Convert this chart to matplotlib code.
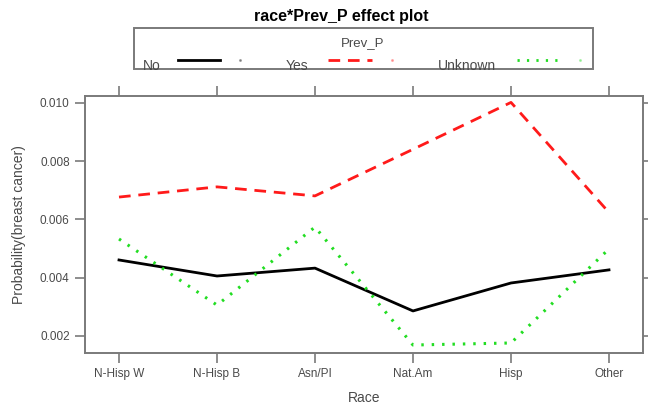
import matplotlib
matplotlib.use("Agg")
import matplotlib.pyplot as plt
from matplotlib.lines import Line2D
from matplotlib.patches import Rectangle
import numpy as np

plt.rcParams.update({"font.family": ["Liberation Sans", "DejaVu Sans"]})

RACES = ["N-Hisp W", "N-Hisp B", "Asn/PI", "Nat.Am", "Hisp", "Other"]
P_NO = [0.00461, 0.00406, 0.00433, 0.00286, 0.00382, 0.00427]
P_YES = [0.00677, 0.00712, 0.00681, 0.00841, 0.01002, 0.00624]
P_UNKNOWN = [0.00533, 0.00306, 0.00574, 0.00169, 0.00176, 0.00499]
Y_TICKS = [0.002, 0.004, 0.006, 0.008, 0.010]

GRAY = "#7a7a7a"
TXT = "#4a4a4a"
RED = "#ff1a1a"
GREEN = "#22dd22"

W, H = 648, 407


def fx(px):
    return px / W


def fy(py):
    return 1 - py / H


fig = plt.figure(figsize=(W / 100, H / 100), dpi=100)
ax = fig.add_axes([fx(85), fy(353), fx(643) - fx(85), fy(96) - fy(353)])

x = np.arange(len(RACES))
ax.plot(x, P_NO, color="black", lw=2.0, solid_joinstyle="round")
ax.plot(x, P_YES, color=RED, lw=2.0, dashes=(4.2, 2.8))
ax.plot(x, P_UNKNOWN, color=GREEN, lw=2.2, dashes=(0.8, 2.6))

ax.set_xlim(-0.347, 5.347)
ax.set_ylim(0.001416, 0.01024)
ax.set_xticks(x)
ax.set_xticklabels(RACES)
ax.set_yticks(Y_TICKS)
ax.set_yticklabels([f"{v:.3f}" for v in Y_TICKS])
ax.tick_params(direction="out", length=7, width=1.2, color=GRAY,
               labelsize=8.5, labelcolor=TXT, pad=4,
               top=True, right=True, labeltop=False, labelright=False)
for s in ax.spines.values():
    s.set_color(GRAY)
    s.set_linewidth(1.4)

ax.set_xlabel("Race", fontsize=10, color=TXT, labelpad=8)
ax.set_ylabel("Probability(breast cancer)", fontsize=10, color=TXT, labelpad=10)

fig.text(fx(341), fy(17), "race*Prev_P effect plot", ha="center", va="center",
         fontsize=11.5, fontweight="bold", color="black")

# key box, lattice style
fig.patches.append(Rectangle((fx(134), fy(69)), fx(593) - fx(134), fy(28) - fy(69),
                             transform=fig.transFigure, fill=False,
                             edgecolor=GRAY, lw=1.4))
fig.text(fx(363), fy(43), "Prev_P", ha="center", va="center", fontsize=9.5, color=TXT)

key = [("No", 143, 178, 220, 240, "black", None),
       ("Yes", 286, 328, 372, 392, RED, (4.2, 2.8)),
       ("Unknown", 438, 517, 557, 580, GREEN, (0.8, 2.6))]
for label, tx, x0, x1, xd, col, dash in key:
    fig.text(fx(tx), fy(70), label, ha="left", va="baseline", fontsize=10, color=TXT)
    kw = {"dashes": dash} if dash else {}
    fig.lines.append(Line2D([fx(x0), fx(x1)], [fy(60), fy(60)], transform=fig.transFigure,
                            color=col, lw=2.0, **kw))
    fig.lines.append(Line2D([fx(xd)], [fy(60)], transform=fig.transFigure, marker="o",
                            markersize=1.2, color=col, alpha=0.3, lw=0))

fig.savefig("out.png", dpi=100)
